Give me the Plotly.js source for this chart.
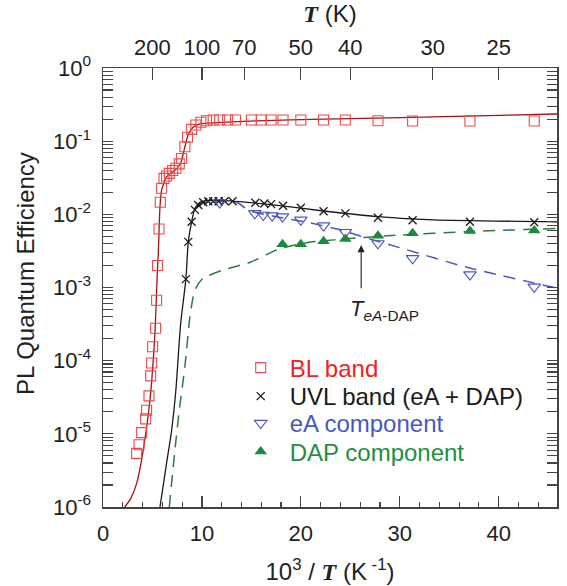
<!DOCTYPE html>
<html><head><meta charset="utf-8">
<script src="https://cdn.plot.ly/plotly-3.0.1.min.js"></script>
<style>html,body{margin:0;padding:0;background:#fff}#plot{width:567px;height:586px}</style>
</head><body><div id="plot"></div>
<script>
// ---- data (x = 10^3/T in K^-1, y = PL quantum efficiency) ----
const blX = [3.40,3.64,3.91,4.31,4.41,4.65,4.82,4.92,5.02,5.32,5.42,5.52,5.66,5.79,5.93,6.16,6.43,6.70,7.04,7.37,7.71,7.95,8.28,8.55,8.96,9.39,9.90,10.47,11.14,11.8,12.6,13.4,15.0,16.0,17.0,18.2,20.0,22.3,24.5,27.8,31.3,37.1,43.6];
const blY = [5.4e-6,7.1e-6,1.04e-5,1.6e-5,2.1e-5,3.3e-5,6.2e-5,9.3e-5,1.55e-4,2.77e-4,6.7e-4,2.0e-3,6.3e-3,0.0146,0.0227,0.031,0.0334,0.0363,0.0397,0.0426,0.049,0.058,0.084,0.113,0.145,0.166,0.181,0.19,0.195,0.195,0.195,0.195,0.195,0.195,0.195,0.195,0.195,0.195,0.195,0.19,0.189,0.189,0.189];
const blFitX = [2.2,2.8,3.4,4.07,4.75,5.25,5.5,5.59,5.76,5.93,6.43,7.27,7.85,8.28,8.6,9.1,9.8,11.5,15.5,22.3,30,45.9];
const blFitY = [1e-6,1.3e-6,2.1e-6,6e-6,2.9e-5,2.4e-4,1.7e-3,2.9e-3,0.0127,0.0215,0.0327,0.040,0.050,0.084,0.121,0.155,0.172,0.179,0.189,0.20,0.21,0.235];

const uvlX = [8.38,8.62,8.96,9.29,9.63,10.13,10.64,11.14,11.7,12.3,13.1,15.4,16.3,17.0,18.2,20.0,22.3,24.5,27.8,31.3,37.1,43.6];
const uvlY = [1.3e-3,4.2e-3,7.9e-3,0.0115,0.0134,0.0146,0.0151,0.0151,0.0151,0.0151,0.0151,0.0144,0.0141,0.0138,0.0131,0.0123,0.0110,0.0103,0.0090,0.0083,0.0079,0.0078];
const uvlFitX = [5.76,6.43,6.94,7.37,7.85,8.38,8.62,8.96,9.29,9.8,10.47,12.3,13.8,17.2,22.3,27.8,33.4,45.9];
const uvlFitY = [1e-6,4e-6,1.12e-5,4e-5,3.2e-4,1.3e-3,4.2e-3,7.9e-3,0.012,0.0146,0.0154,0.0154,0.0149,0.0135,0.0111,0.0093,0.0084,0.0079];

const eaX = [11.8,15.35,16.2,17.1,18.15,20.0,22.3,24.5,27.8,31.3,37.1,43.6];
const eaY = [0.0145,0.0103,0.0098,0.0096,0.0093,0.0084,0.0070,0.0057,0.0040,0.0025,0.0015,0.00102];
const eaFitX = [9.39,10.5,13.5,14.8,17.5,20.6,23.9,26.1,30,36.7,45.9];
const eaFitY = [0.0127,0.0148,0.0146,0.0112,0.0093,0.0078,0.0062,0.0050,0.0035,0.0019,0.00098];

const dapX = [18.15,20.0,22.3,24.5,27.8,31.3,37.1,43.6];
const dapY = [0.0039,0.0039,0.0043,0.0046,0.0051,0.0055,0.0059,0.0060];
const dapFitX = [6.7,7.27,7.71,8.28,8.79,9.12,9.46,10.1,12.15,14.85,17.9,20.6,26.1,30,36.7,45.9];
const dapFitY = [1e-6,6e-6,2.1e-5,8.3e-5,4e-4,7.5e-4,1.02e-3,1.33e-3,1.74e-3,2.2e-3,3.4e-3,4.1e-3,4.8e-3,5.2e-3,5.8e-3,6.4e-3];

const topT = [200,100,70,50,40,30,25];
const yExp = [0,-1,-2,-3,-4,-5,-6];
const legendNames = ['BL band','UVL band (eA + DAP)','eA component','DAP component'];
const arrowX = 26.1, arrowTail = 9.3e-4, arrowHead = 3.8e-3;

// ---- colors ----
const cRed = '#f04848', cRedLine = '#a31515', cBlack = '#1a1a1a', cBlue = '#4a56c0', cGreen = '#1a8a3c', cGreenLine = '#2e7a40';
const legendCols = ['#ee2222','#1a1a1a','#4a56c0','#1e9040'];
const F = 'Liberation Sans, Arial, sans-serif';

const lineStyle = {shape:'spline', smoothing:0.6};
const traces = [
  {x: blFitX, y: blFitY, mode:'lines', line:Object.assign({color:cRedLine, width:1.3}, lineStyle), showlegend:false, hoverinfo:'skip'},
  {x: uvlFitX, y: uvlFitY, mode:'lines', line:Object.assign({color:cBlack, width:1.3}, lineStyle), showlegend:false, hoverinfo:'skip'},
  {x: eaFitX, y: eaFitY, mode:'lines', line:Object.assign({color:cBlue, width:1.5, dash:'12px,8px'}, lineStyle), showlegend:false, hoverinfo:'skip'},
  {x: dapFitX, y: dapFitY, mode:'lines', line:Object.assign({color:cGreenLine, width:1.5, dash:'12px,8px'}, lineStyle), showlegend:false, hoverinfo:'skip'},
  {x: blX, y: blY, mode:'markers', legend:'legend',
   marker:{symbol:'square-open', size:10, color:cRed, line:{width:1.1}}},
  {x: uvlX, y: uvlY, mode:'markers', legend:'legend2',
   marker:{symbol:'x-thin-open', size:8, color:cBlack, line:{width:1.3, color:cBlack}}},
  {x: eaX, y: eaY, mode:'markers', legend:'legend3',
   marker:{symbol:'triangle-down-open', size:11, color:cBlue, line:{width:1.1}}},
  {x: dapX, y: dapY, mode:'markers', legend:'legend4',
   marker:{symbol:'triangle-up', size:11, color:cGreen}}
];
for (let i = 0; i < 4; i++) traces[4+i].name = '<span style="color:' + legendCols[i] + '">' + legendNames[i] + '</span>';

// dummy trace to activate the top axis
traces.push({x:[0], y:[1e-9], mode:'markers', marker:{opacity:0}, xaxis:'x2', yaxis:'y', showlegend:false, hoverinfo:'skip'});

const minorVals = [];
for (let e = -6; e < 0; e++) for (let m = 2; m <= 9; m++) minorVals.push(m * Math.pow(10, e));

const axisCol = '#444';
const legBase = {x:0.2835, xanchor:'left', yanchor:'middle', bgcolor:'rgba(0,0,0,0)', font:{family:F, size:24}, itemwidth:48};
const legRowsPx = [368, 396.5, 423.5, 452];
const layout = {
  width:567, height:586,
  margin:{l:103, r:10, t:68, b:79},
  paper_bgcolor:'#fff', plot_bgcolor:'#fff',
  font:{family:F, size:22, color:'#222'},
  showlegend:true,
  xaxis:{range:[0,45.9], tickvals:[0,10,20,30,40], ticks:'inside', ticklen:11, tickwidth:1.3, tickcolor:axisCol,
         minor:{dtick:2, ticks:'inside', ticklen:5, tickwidth:1.1, tickcolor:axisCol},
         showline:true, linecolor:axisCol, linewidth:1.5, mirror:false, showgrid:false, zeroline:false,
         tickfont:{size:22}, ticklabelstandoff:6,
         title:{text:'10<sup>3</sup> / <span style="font-family:Liberation Serif"><b><i>T</i></b></span> (K<sup> -1</sup>)', font:{size:24}, standoff:18}},
  xaxis2:{overlaying:'x', side:'top', range:[0,45.9], tickvals:topT.map(t=>1000/t), ticktext:topT.map(String),
          ticks:'inside', ticklen:12, tickwidth:1.3, tickcolor:axisCol, showline:true, linecolor:axisCol, linewidth:1.5,
          showgrid:false, zeroline:false, tickfont:{size:22}, ticklabelstandoff:3,
          title:{text:'<span style="font-family:Liberation Serif"><b><i>T</i></b></span> (K)', font:{size:24}, standoff:6}},
  yaxis:{type:'log', range:[-6,0], tickvals:yExp.map(e=>Math.pow(10,e)), ticktext:yExp.map(e=>'10<sup>'+(e<0?'-'+(-e):e)+'</sup>'),
         ticks:'inside', ticklen:10, tickwidth:1.3, tickcolor:axisCol,
         minor:{tickvals:minorVals, ticks:'inside', ticklen:5, tickwidth:1.1, tickcolor:axisCol},
         showline:true, linecolor:axisCol, linewidth:1.5, mirror:'allticks', showgrid:false, zeroline:false,
         tickfont:{size:22}, ticklabelstandoff:6},
  annotations:[
    {x:-0.1707, y:0.532, xref:'paper', yref:'paper', xanchor:'center', yanchor:'middle', textangle:-90,
     text:'PL Quantum Efficiency', showarrow:false, font:{family:F, size:24, color:'#222'}},
    {x:arrowX, y:Math.log10(arrowHead), ax:arrowX, ay:Math.log10(arrowTail), xref:'x', yref:'y', axref:'x', ayref:'y',
     text:'', showarrow:true, arrowhead:2, arrowsize:1.3, arrowwidth:1.1, arrowcolor:'#222'},
    {x:arrowX, y:Math.log10(arrowTail), xref:'x', yref:'y', xanchor:'left', yanchor:'top', xshift:-13, yshift:-4,
     text:'<i>T</i><sub><i>eA</i>-DAP</sub>', showarrow:false, font:{family:F, size:22, color:'#222'}}
  ]
};
['legend','legend2','legend3','legend4'].forEach((k, i) => {
  layout[k] = Object.assign({}, legBase, {y:(507 - legRowsPx[i]) / 439});
});

Plotly.newPlot('plot', traces, layout, {staticPlot:true, displayModeBar:false});
</script>
</body></html>
